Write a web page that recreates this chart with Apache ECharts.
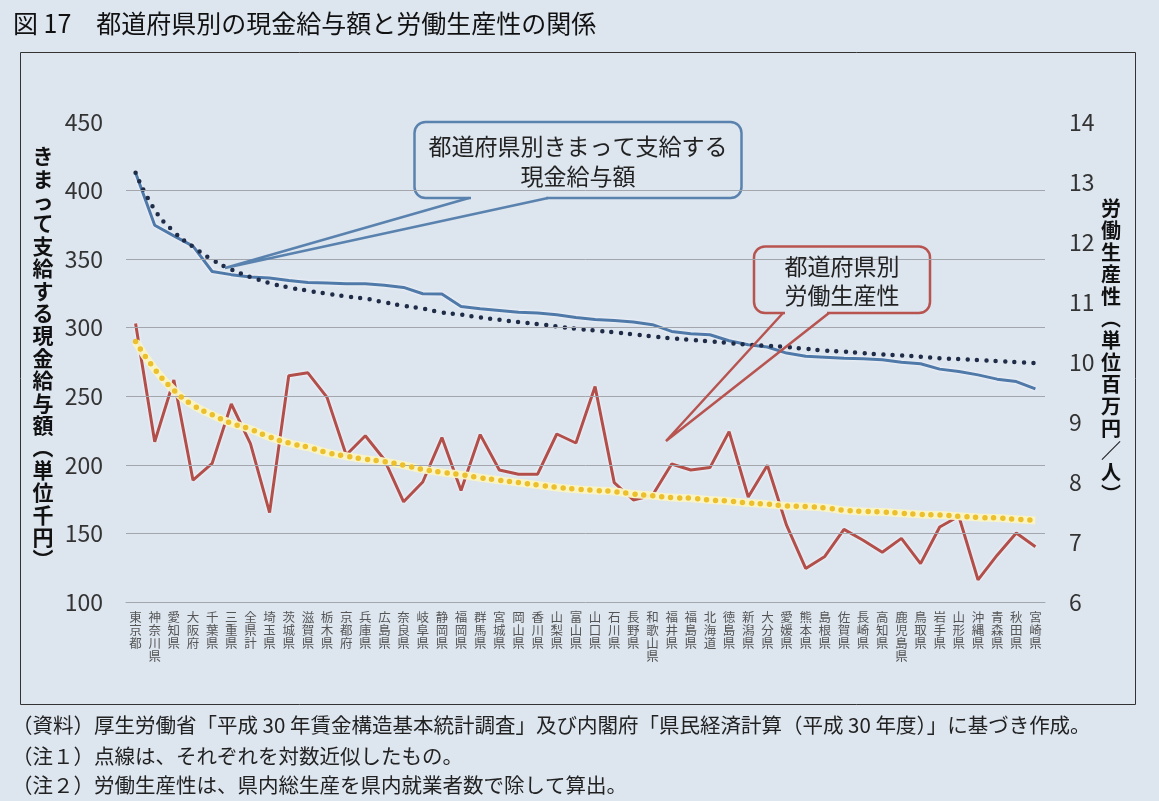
<!DOCTYPE html>
<html>
<head>
<meta charset="utf-8">
<script src="https://cdn.jsdelivr.net/npm/echarts@6/dist/echarts.min.js"></script>
<style>
html,body{margin:0;padding:0;background:#dde5ef;}
#chart{width:1159px;height:801px;}
</style>
</head>
<body>
<div id="chart"></div>
<script>
// 都道府県（給与額の高い順）
var prefs = ['東京都','神奈川県','愛知県','大阪府','千葉県','三重県','全県計','埼玉県','茨城県','滋賀県',
    '栃木県','京都府','兵庫県','広島県','奈良県','岐阜県','静岡県','福岡県','群馬県','宮城県',
    '岡山県','香川県','山梨県','富山県','山口県','石川県','長野県','和歌山県','福井県','福島県',
    '北海道','徳島県','新潟県','大分県','愛媛県','熊本県','島根県','佐賀県','長崎県','高知県',
    '鹿児島県','鳥取県','岩手県','山形県','沖縄県','青森県','秋田県','宮崎県'];

// きまって支給する現金給与額（千円）
var wage = [413,374.7,367,359.5,341,338.7,337,336.3,334.5,333,
    332.6,332,332,331,329.4,324.8,324.6,315.5,313.9,312.6,
    311.2,310.7,309.5,307.5,306,305.3,304.1,302.2,297.3,295.6,
    294.9,290.5,287.6,285.9,281.5,279.2,278.5,277.8,277.3,276.6,
    274.9,273.7,269.8,268,265.6,262.5,260.7,255.4];

// 給与額の対数近似（点線）
var wageTrend = [413,386,370,359,349.7,342.4,337,332.6,329.4,327,
    324.8,322.9,321.2,318.5,316,313.9,311.2,309.5,307.5,305.8,
    304.1,302.7,300.9,299.3,297.9,296.6,295.1,293.6,292.2,291.2,
    290,288.8,287.6,286.8,285.9,284.6,283.4,282.5,281.5,280.5,
    279.8,278.8,277.8,277.1,276.4,275.6,274.9,274.2];

// 労働生産性（百万円／人）
var prod = [10.64,8.67,9.70,8.03,8.31,9.30,8.64,7.49,9.77,9.82,
    9.41,8.45,8.77,8.37,7.67,8.00,8.74,7.86,8.79,8.20,
    8.13,8.13,8.80,8.65,9.59,7.99,7.70,7.78,8.30,8.20,
    8.24,8.84,7.75,8.28,7.28,6.56,6.76,7.21,7.03,6.83,
    7.06,6.64,7.25,7.43,6.37,6.78,7.15,6.92];

// 労働生産性の対数近似（点線）
var prodTrend = [10.34,9.88,9.53,9.28,9.12,8.98,8.88,8.75,8.65,8.58,
    8.49,8.43,8.38,8.34,8.28,8.21,8.16,8.12,8.07,8.03,
    7.99,7.95,7.91,7.88,7.86,7.84,7.80,7.77,7.74,7.73,
    7.70,7.68,7.65,7.63,7.60,7.59,7.57,7.53,7.51,7.50,
    7.48,7.46,7.45,7.43,7.41,7.40,7.38,7.36];

var gridTicks = [150,200,250,300,350,400];

var BG = '#dde5ef';
var FONT = '"Noto Sans CJK JP","Noto Sans",sans-serif';

function vert(s){ return s.split('').join('\n'); }

var myChart = echarts.init(document.getElementById('chart'));
var option = {
    backgroundColor: BG,
    animation: false,
    textStyle: { fontFamily: FONT },
    grid: { left:126, right:114, top:122, bottom:199, containLabel:false, outerBoundsMode:'none' },
    xAxis: {
        type:'category',
        data: prefs,
        boundaryGap: true,
        axisLine: { show:true, lineStyle:{ color:'#a3a7ad', width:1 } },
        axisTick: { show:false },
        splitLine: { show:false },
        axisLabel: {
            interval:0, margin:9, color:'#555', fontSize:12.5, lineHeight:12.8,
            fontFamily: FONT,
            formatter: function(v){ return vert(v); }
        }
    },
    yAxis: [{
        type:'value', min:100, max:450, interval:50, position:'left',
        axisLine:{show:false}, axisTick:{show:false}, splitLine:{show:false},
        axisLabel:{ margin:23, color:'#333', fontSize:23, fontFamily: FONT }
    },{
        type:'value', min:6, max:14, interval:1, position:'right',
        axisLine:{show:false}, axisTick:{show:false}, splitLine:{show:false},
        axisLabel:{ margin:24, color:'#333', fontSize:23, fontFamily: FONT }
    }],
    series: [{
        name:'grid', type:'line', data:[], z:0, silent:true,
        markLine:{
            silent:true, symbol:'none', label:{show:false},
            lineStyle:{ type:'solid', color:'#a3a7ad', width:1 },
            data: gridTicks.map(function(t){ return { yAxis:t }; })
        }
    },{
        name:'現金給与額', type:'line', yAxisIndex:0, data:wage, z:3,
        symbol:'none',
        lineStyle:{ color:'#4f79a9', width:3, shadowColor:'rgba(255,255,255,0.9)', shadowBlur:3 }
    },{
        name:'現金給与額（対数近似）', type:'line', yAxisIndex:0, data:wageTrend, z:4,
        symbol:'none', smooth:true,
        lineStyle:{ color:'#1f2c47', width:4.5, type:[0,9.4], cap:'round' }
    },{
        name:'労働生産性', type:'line', yAxisIndex:1, data:prod, z:3,
        symbol:'none',
        lineStyle:{ color:'#b24f4a', width:3, shadowColor:'rgba(255,255,255,0.9)', shadowBlur:3 }
    },{
        name:'労働生産性（対数近似）帯', type:'line', yAxisIndex:1, data:prodTrend, z:4,
        symbol:'none', smooth:true,
        lineStyle:{ color:'rgba(250,244,196,0.95)', width:8 }
    },{
        name:'労働生産性（対数近似）', type:'line', yAxisIndex:1, data:prodTrend, z:5,
        symbol:'none', smooth:true,
        lineStyle:{ color:'#ecbf2c', width:5.5, type:[0,9], cap:'round' }
    }],
    graphic: [
        // タイトル
        { type:'text', left:13, top:11, z:10,
          style:{ text:'図 17　都道府県別の現金給与額と労働生産性の関係', fill:'#111', font:'25px '+FONT } },
        // 枠
        { type:'rect', z:1, shape:{ x:20.5, y:52.5, width:1115, height:652 },
          style:{ fill:null, stroke:'#333', lineWidth:1 } },
        // 左軸名
        { type:'text', z:10, x:43, y:145,
          style:{ text: vert('きまって支給する現金給与額︵単位千円︶'), fill:'#111', align:'center', verticalAlign:'top',
                  font:'bold 21px '+FONT, lineHeight:22.4 } },
        // 右軸名
        { type:'text', z:10, x:1111, y:197,
          style:{ text: vert('労働生産性︵単位百万円／人︶'), fill:'#111', align:'center', verticalAlign:'top',
                  font:'bold 20px '+FONT, lineHeight:22 } },
        // 吹き出し（給与額）
        { type:'rect', z:1, shape:{ x:414.5, y:122, width:327, height:76, r:11 },
          style:{ fill:BG, stroke:'#5a82ae', lineWidth:2.5 } },
        { type:'line', z:1, shape:{ x1:471, y1:198, x2:546, y2:198 },
          style:{ stroke:BG, lineWidth:4 } },
        { type:'polyline', z:6, shape:{ points:[[469,198],[225,268],[548,198]] },
          style:{ fill:null, stroke:'#5a82ae', lineWidth:2.5 } },
        { type:'text', z:10, x:578, y:161,
          style:{ text:'都道府県別きまって支給する\n現金給与額', fill:'#222', align:'center', verticalAlign:'middle',
                  font:'23px '+FONT, lineHeight:30 } },
        // 吹き出し（労働生産性）
        { type:'rect', z:1, shape:{ x:754, y:246.5, width:176, height:66.5, r:11 },
          style:{ fill:BG, stroke:'#b85450', lineWidth:2.5 } },
        { type:'line', z:1, shape:{ x1:785, y1:313, x2:827, y2:313 },
          style:{ stroke:BG, lineWidth:4 } },
        { type:'polyline', z:6, shape:{ points:[[783,313],[666,441],[829,313]] },
          style:{ fill:null, stroke:'#b85450', lineWidth:2.5 } },
        { type:'text', z:10, x:842, y:281,
          style:{ text:'都道府県別\n労働生産性', fill:'#222', align:'center', verticalAlign:'middle',
                  font:'23px '+FONT, lineHeight:29 } },
        // 注記
        { type:'text', z:10, left:12, top:715,
          style:{ text:'（資料）厚生労働省「平成 30 年賃金構造基本統計調査」及び内閣府「県民経済計算（平成 30 年度）」に基づき作成。',
                  fill:'#222', font:'20.5px '+FONT } },
        { type:'text', z:10, left:12, top:746,
          style:{ text:'（注１）点線は、それぞれを対数近似したもの。', fill:'#222', font:'20.5px '+FONT } },
        { type:'text', z:10, left:12, top:775,
          style:{ text:'（注２）労働生産性は、県内総生産を県内就業者数で除して算出。', fill:'#222', font:'20.5px '+FONT } }
    ]
};
myChart.setOption(option);
</script>
</body>
</html>
